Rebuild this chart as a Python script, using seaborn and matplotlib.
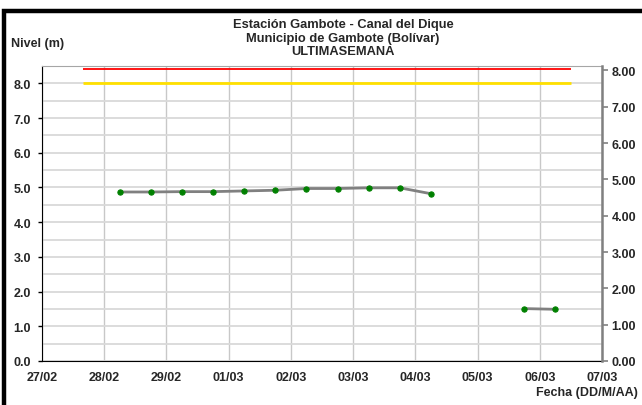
import pandas as pd
import matplotlib
matplotlib.use("Agg")
import matplotlib.pyplot as plt
import matplotlib.dates as mdates
from matplotlib.patches import Rectangle
import seaborn as sns

# datos ------------------------------------------------------------------
fechas = ["2024-02-28 06:00", "2024-02-28 18:00", "2024-02-29 06:00", "2024-02-29 18:00",
          "2024-03-01 06:00", "2024-03-01 18:00", "2024-03-02 06:00", "2024-03-02 18:00",
          "2024-03-03 06:00", "2024-03-03 18:00", "2024-03-04 06:00",
          "2024-03-05 18:00", "2024-03-06 06:00"]
niveles = [4.87, 4.87, 4.88, 4.88, 4.90, 4.92, 4.97, 4.97, 4.99, 4.99, 4.82,
           1.51, 1.49]
tramo = [1, 1, 1, 1, 1, 1, 1, 1, 1, 1, 1, 2, 2]

nivel_rojo = 8.42
nivel_amarillo = 8.0
alerta_desde = "2024-02-27 16:00"
alerta_hasta = "2024-03-06 12:00"

x_inicio = "2024-02-27"
x_fin = "2024-03-07"

titulo = "Estación Gambote - Canal del Dique\nMunicipio de Gambote (Bolívar)\nULTIMASEMANA"

df = pd.DataFrame({"fecha": pd.to_datetime(fechas), "nivel": niveles, "tramo": tramo})

sns.set_style("white")
plt.rcParams["font.family"] = ["Liberation Sans", "DejaVu Sans"]
plt.rcParams["font.weight"] = "bold"
fs = 9

fig = plt.figure(figsize=(6.42, 4.06), dpi=100)
ax = fig.add_axes([42 / 642, 1 - 362 / 406, 560 / 642, 295 / 406])

# marco negro del grafico
fig.patches.append(Rectangle((3.5 / 642, -0.1), 1.2, 1 - 11.5 / 406 + 0.1, transform=fig.transFigure,
                             fill=False, edgecolor="black", linewidth=3.2, zorder=0))

# lineas de alerta
ax.hlines(nivel_rojo, pd.Timestamp(alerta_desde), pd.Timestamp(alerta_hasta), color="#ff0000", lw=1.3, zorder=3)
ax.hlines(nivel_amarillo, pd.Timestamp(alerta_desde), pd.Timestamp(alerta_hasta), color="#ffe000", lw=2.0, zorder=3)

sns.lineplot(data=df, x="fecha", y="nivel", units="tramo", estimator=None, ax=ax,
             color="#808080", lw=2, marker="o", markersize=3.8, markerfacecolor="#008000",
             markeredgecolor="#008000", zorder=4)

ax.set_xlim(pd.Timestamp(x_inicio), pd.Timestamp(x_fin))
ax.set_ylim(0, 8.5)
ax.xaxis.set_major_locator(mdates.DayLocator())
ax.xaxis.set_major_formatter(mdates.DateFormatter("%d/%m"))
ax.set_yticks([0, 1, 2, 3, 4, 5, 6, 7, 8])
ax.set_yticks([0.5, 1.5, 2.5, 3.5, 4.5, 5.5, 6.5, 7.5], minor=True)
ax.yaxis.set_major_formatter(matplotlib.ticker.FormatStrFormatter("%.1f"))
ax.grid(True, axis="y", which="both", color="#d9d9d9", lw=1.3)
ax.grid(True, axis="x", which="major", color="#c8c8c8", lw=1)
ax.set_axisbelow(True)
ax.set_xlabel("")
ax.set_ylabel("")
ax.tick_params(axis="both", which="major", labelsize=fs, length=3, width=1, color="black")
ax.tick_params(axis="y", which="major", pad=5)
ax.tick_params(axis="y", which="minor", length=0)
ax.tick_params(axis="x", pad=4)
for lab in ax.get_xticklabels() + ax.get_yticklabels():
    lab.set_fontweight("bold")

ax.spines["left"].set_color("black")
ax.spines["bottom"].set_color("black")
ax.spines["top"].set_color("#a6a6a6")
ax.spines["right"].set_visible(False)

ax2 = ax.twinx()
ax2.set_ylim(0, 8.12)
ax2.set_yticks([0, 1, 2, 3, 4, 5, 6, 7, 8])
ax2.yaxis.set_major_formatter(matplotlib.ticker.FormatStrFormatter("%.2f"))
ax2.tick_params(axis="y", labelsize=fs, length=4, width=1.2, color="#808080", pad=3)
for lab in ax2.get_yticklabels():
    lab.set_fontweight("bold")
for s in ["left", "top", "bottom"]:
    ax2.spines[s].set_visible(False)
ax2.spines["right"].set_color("#808080")
ax2.spines["right"].set_linewidth(1.8)

# titulo en tres lineas, cada una centrada
for i, linea in enumerate(titulo.split("\n")):
    fig.text(343 / 642, 1 - (28 + 13.7 * i) / 406, linea, ha="center", va="baseline",
             fontsize=9.3, fontweight="bold")
fig.text(11 / 642, 1 - 44 / 406, "Nivel (m)", ha="left", va="center", fontsize=fs, fontweight="bold")
fig.text(638 / 642, 1 - 393 / 406, "Fecha (DD/M/AA)", ha="right", va="center", fontsize=fs, fontweight="bold")

fig.savefig("out.png", dpi=100)
